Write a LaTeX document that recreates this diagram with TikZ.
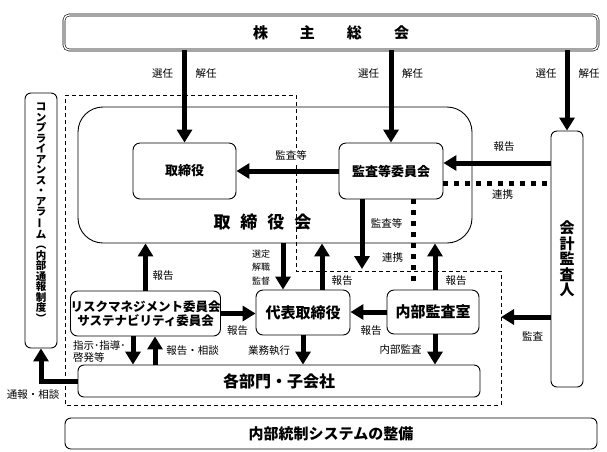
\documentclass[tikz,border=0pt]{standalone}
\usepackage{fontspec}
\setmainfont{Noto Sans CJK JP}
\usetikzlibrary{arrows.meta,positioning,calc}
\newcommand\fsz[1]{\fontsize{#1}{#1}\selectfont}
\tikzset{
  box/.style={draw, line width=0.9pt, rounded corners=7pt, inner sep=0pt, align=center},
  big/.style={-{Triangle[width=15pt,length=13pt]}, line width=5pt},
  dots/.style={line width=5pt, dash pattern=on 5pt off 6pt},
  lbl/.style={inner sep=0pt, font=\fsz{10.5}},
}
\begin{document}
\begin{tikzpicture}[x=1pt,y=-1pt]
\useasboundingbox (0,0) rectangle (607,451);
% boxes
\node[box, double, double distance=1.4pt, line width=0.6pt, rounded corners=5pt,
  minimum width=534pt, minimum height=35pt, font=\fsz{15}\bfseries] (soukai) at (331,32.5)
  {株\hspace{32pt}主\hspace{32pt}総\hspace{32pt}会};
\node[box, rounded corners=25pt, minimum width=394pt, minimum height=136pt] (torikai) at (275,175) {};
\node[inner sep=0pt, font=\fsz{17}\bfseries] (torikaiLbl) at (262.5,222)
  {取\hspace{10pt}締\hspace{10pt}役\hspace{10pt}会};
\node[box, minimum width=103pt, minimum height=56pt, font=\fsz{13}\bfseries] (tori) at (184.5,171) {取締役};
\node[box, minimum width=104pt, minimum height=56pt, font=\fsz{13}\bfseries] (kansa) at (391,171) {監査等委員会};
\node[box, rounded corners=6pt, minimum width=32pt, minimum height=256pt] (kaikei) at (567,259) {};
\node[inner sep=0pt, align=center, font=\fontsize{15}{15.5}\selectfont\bfseries] (kaikeiLbl) at (567,259)
  {会\\計\\監\\査\\人};
\node[box, rounded corners=6pt, minimum width=32pt, minimum height=255pt] (comp) at (41,220.5) {};
\node[inner sep=0pt, align=center, font=\fontsize{10.5}{10.5}\selectfont\bfseries] (compLbl) at (41,212.5)
  {コ\\ン\\プ\\ラ\\イ\\ア\\ン\\ス\\・\\ア\\ラ\\\rotatebox[origin=c]{90}{ー}\\ム\\︵\\内\\部\\通\\報\\制\\度\\︶};
\node[box, minimum width=149pt, minimum height=45pt, font=\fontsize{12.5}{14}\selectfont\bfseries] (risk) at (145.5,313.5)
  {リスクマネジメント委員会\\サステナビリティ委員会};
\node[box, minimum width=94pt, minimum height=45pt, font=\fsz{15}\bfseries] (daihyo) at (303,312.5) {代表取締役};
\node[box, minimum width=92pt, minimum height=44pt, font=\fsz{15}\bfseries] (naibu) at (433,312) {内部監査室};
\node[box, rounded corners=6pt, minimum width=402pt, minimum height=32pt, font=\fsz{16}\bfseries] (bumon) at (279,381) {各部門・子会社};
\node[box, rounded corners=6pt, minimum width=532pt, minimum height=31pt, font=\fsz{15}\bfseries] (seibi) at (331,433.5) {内部統制システムの整備};
% dashed area
\draw[line width=0.8pt, dash pattern=on 4pt off 3pt]
  (65,95) -- (296,95) -- (296,271) -- (501,271) -- (501,405) -- (65,405) -- cycle;
\coordinate (audit) at (501,317);
\coordinate (kansaEnd) at (362,269);
% connectors
\draw[big] (soukai.south -| tori.north) -- (tori.north);
\draw[big] (soukai.south -| kansa.north) -- (kansa.north);
\draw[big] (soukai.south -| kaikei.north) -- (kaikei.north);
\draw[big] (kansa.west) -- (tori.east);
\draw[big] ($(kansa.east -| kaikei.west)+(0,-8)$) -- ($(kansa.east)+(0,-8)$);
\draw[dots] ($(kansa.east)+(0,12)$) -- ($(kansa.east -| kaikei.west)+(0,12)$);
\draw[dots] ($(kansa.south)+(22,0)$) -- ($(kansa.south |- naibu.north)+(22,-6)$);
\draw[big] ($(kansa.south)+(-29,0)$) -- (kansaEnd);
\draw[big] (risk.north) -- (risk.north |- torikai.south);
\draw[big] ($(torikai.south -| daihyo.north)+(-20,0)$) -- ($(daihyo.north)+(-20,0)$);
\draw[big] ($(daihyo.north)+(19,0)$) -- ($(torikai.south -| daihyo.north)+(19,0)$);
\draw[big] ($(naibu.north)+(2,0)$) -- ($(naibu.north |- torikai.south)+(2,0)$);
\draw[big] (risk.east) -- (risk.east -| daihyo.west);
\draw[big] (naibu.west) -- (naibu.west -| daihyo.east);
\draw[big] ($(risk.south)+(-12.5,0)$) -- ($(risk.south |- bumon.north)+(-12.5,0)$);
\draw[big] ($(risk.south |- bumon.north)+(9.5,0)$) -- ($(risk.south)+(9.5,0)$);
\draw[big] (daihyo.south) -- (daihyo.south |- bumon.north);
\draw[big] ($(naibu.south)+(2,0)$) -- ($(naibu.south |- bumon.north)+(2,0)$);
\draw[big] (kaikei.west |- audit) -- (audit);
\draw[big] (bumon.west) -| (comp.south);
% labels
\node[lbl] (sen1) at (162.5,74) {選任};
\node[lbl] (kai1) at (206,74) {解任};
\node[lbl] (sen2) at (368.5,74) {選任};
\node[lbl] (kai2) at (412.5,74) {解任};
\node[lbl] (sen3) at (546,74) {選任};
\node[lbl] (kai3) at (589,74) {解任};
\node[lbl, fill=white, inner sep=2pt] (kansaTo) at (291,155) {監査等};
\node[lbl] (houKai) at (504,147) {報告};
\node[lbl] (renKai) at (502.5,195) {連携};
\node[lbl] (kansaDown) at (386.5,223) {監査等};
\node[lbl] (renNaibu) at (392.5,258) {連携};
\node[lbl, font=\fsz{9}] (sentei) at (261,254) {選定};
\node[lbl, font=\fsz{9}] (kaishoku) at (261,267.5) {解職};
\node[lbl, font=\fsz{9}] (kantoku) at (261,281) {監督};
\node[lbl] (houRisk) at (163,276) {報告};
\node[lbl] (houDaihyo) at (342,281) {報告};
\node[lbl] (houNaibu) at (456,281) {報告};
\node[lbl] (houRD) at (237.5,331) {報告};
\node[lbl] (houND) at (371,331) {報告};
\node[lbl] (kansaLbl) at (532.5,336) {監査};
\node[lbl, anchor=west] (shiji) at (73,345) {指示･指導･};
\node[lbl, anchor=west] (keihatsu) at (73,357) {啓発等};
\node[lbl] (houSou) at (192.5,351) {報告・相談};
\node[lbl] (gyoumu) at (269,351) {業務執行};
\node[lbl] (naibuKansa) at (400.5,350) {内部監査};
\node[lbl] (tsuhou) at (33,395) {通報・相談};
\end{tikzpicture}
\end{document}
